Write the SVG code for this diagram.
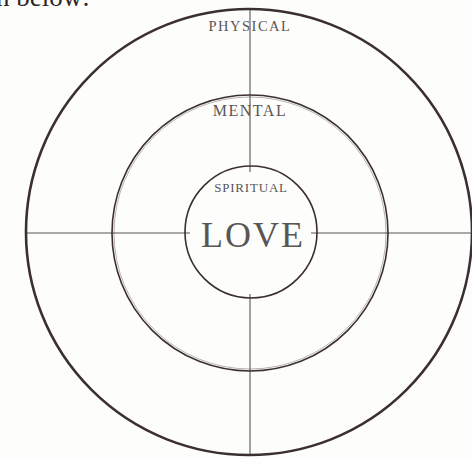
<svg xmlns="http://www.w3.org/2000/svg" width="472" height="459" viewBox="0 0 472 459">
<style>
.ring{fill:none;stroke:#3b2f30}
.axis{stroke:#5a5556;stroke-width:1.1;fill:none}
.lbl{font-family:"Liberation Serif",serif;fill:#5a5556;text-anchor:middle}
</style>
<rect width="472" height="459" fill="#fdfdfb"/>
<text x="-4" y="6" font-family="Liberation Serif, serif" font-size="27" fill="#2e2526">n below:</text>
<g id="connectors">
<line class="axis" x1="250" y1="8" x2="250" y2="172"/>
<line class="axis" x1="250" y1="294" x2="250" y2="456"/>
<line class="axis" x1="26" y1="233" x2="190" y2="233"/>
<line class="axis" x1="311" y1="233" x2="471" y2="233"/>
</g>
<g id="physical">
<circle class="ring" cx="249" cy="232" r="223" stroke-width="2.6"/>
<text class="lbl" x="250" y="31" font-size="14.5" letter-spacing="1.5">PHYSICAL</text>
</g>
<g id="mental">
<circle class="ring" cx="250" cy="233" r="138" stroke-width="1.6"/>
<circle class="ring" cx="250" cy="233" r="136" stroke-width="0.6" opacity="0.6"/>
<text class="lbl" x="250" y="116" font-size="16" letter-spacing="1.5">MENTAL</text>
</g>
<g id="spiritual">
<circle class="ring" cx="251" cy="232" r="66" stroke-width="1.6"/>
<text class="lbl" x="251" y="192" font-size="13" letter-spacing="0.8">SPIRITUAL</text>
</g>
<g id="love">
<text class="lbl" x="253" y="247" font-size="36" letter-spacing="2" fill="#3b3536">LOVE</text>
</g>
</svg>
